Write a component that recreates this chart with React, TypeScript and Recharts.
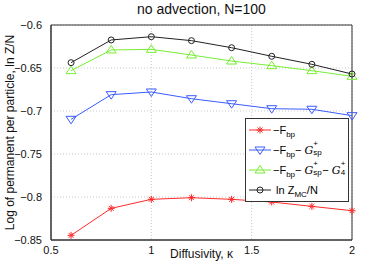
import React from 'react';
import {
  LineChart,
  Line,
  XAxis,
  YAxis,
  CartesianGrid,
  ReferenceArea,
} from 'recharts';

// Diffusivity values
const kappa = [0.6, 0.8, 1.0, 1.2, 1.4, 1.6, 1.8, 2.0];

// Series values
const fbp = [-0.8446, -0.8132, -0.8027, -0.8008, -0.8027, -0.8058, -0.8109, -0.8159];
const fbpSp = [-0.7097, -0.681, -0.6779, -0.6857, -0.6915, -0.6973, -0.698, -0.7054];
const fbpSp4 = [-0.6531, -0.629, -0.6283, -0.6349, -0.6419, -0.6473, -0.6531, -0.6597];
const lnZmc = [-0.6438, -0.6174, -0.6136, -0.6182, -0.6264, -0.6364, -0.6457, -0.657];

const xTicks = [0.5, 1, 1.5, 2];
const yTicks = [-0.85, -0.8, -0.75, -0.7, -0.65, -0.6];

const data = kappa.map((k, i) => ({
  k,
  fbp: fbp[i],
  fbpSp: fbpSp[i],
  fbpSp4: fbpSp4[i],
  lnZmc: lnZmc[i],
}));

const COLORS = {
  red: '#ff2a2a',
  blue: '#3a5cff',
  green: '#77ee33',
  black: '#222222',
};

const FONT = '"Liberation Sans", Arial, sans-serif';

const fmt = (v: number) => String(v).replace('-', '\u2212');

// marker shapes
const Star = ({ cx, cy, color }: any) => {
  const r = 3.5;
  const d = r * 0.7;
  return (
    <g stroke={color} strokeWidth={1}>
      <line x1={cx - r} y1={cy} x2={cx + r} y2={cy} />
      <line x1={cx} y1={cy - r} x2={cx} y2={cy + r} />
      <line x1={cx - d} y1={cy - d} x2={cx + d} y2={cy + d} />
      <line x1={cx - d} y1={cy + d} x2={cx + d} y2={cy - d} />
    </g>
  );
};

const TriDown = ({ cx, cy, color }: any) => {
  const r = 5;
  return (
    <polygon
      points={`${cx - r},${cy - r * 0.6} ${cx + r},${cy - r * 0.6} ${cx},${cy + r * 0.9}`}
      fill="none"
      stroke={color}
      strokeWidth={1}
    />
  );
};

const TriUp = ({ cx, cy, color }: any) => {
  const r = 5;
  return (
    <polygon
      points={`${cx - r},${cy + r * 0.6} ${cx + r},${cy + r * 0.6} ${cx},${cy - r * 0.9}`}
      fill="none"
      stroke={color}
      strokeWidth={1}
    />
  );
};

const Circ = ({ cx, cy, color }: any) => (
  <circle cx={cx} cy={cy} r={3} fill="none" stroke={color} strokeWidth={1} />
);

const dotOf = (Shape: any, color: string) => (props: any) =>
  <Shape key={`${color}-${props.index}`} cx={props.cx} cy={props.cy} color={color} />;

const LegendRow = ({ Shape, color, children }: any) => (
  <div style={{ display: 'flex', alignItems: 'center', height: 20 }}>
    <svg width={24} height={14} style={{ flex: 'none' }}>
      <line x1={1} y1={7} x2={23} y2={7} stroke={color} strokeWidth={1} />
      <Shape cx={12} cy={7} color={color} />
    </svg>
    <span style={{ marginLeft: 1, whiteSpace: 'nowrap' }}>{children}</span>
  </div>
);

const sub = (t: string) => (
  <span style={{ fontSize: 8, position: 'relative', top: 3 }}>{t}</span>
);

const G = (s: string) => (
  <span style={{ fontStyle: 'italic', fontFamily: '"DejaVu Serif", serif' }}>
    G
    <span style={{ position: 'relative', display: 'inline-block', width: s.length > 1 ? 9 : 5, height: 10, fontStyle: 'normal', fontFamily: FONT }}>
      <span style={{ position: 'absolute', left: 0, top: -5, fontSize: 8 }}>+</span>
      <span style={{ position: 'absolute', left: 0, top: 4, fontSize: 8 }}>{s}</span>
    </span>
  </span>
);

const LegendBox = () => (
  <div
    style={{
      position: 'absolute',
      left: 245,
      top: 118,
      background: '#fff',
      border: '1px solid #333',
      padding: '1px 2px 1px 2px',
      fontFamily: FONT,
      fontSize: 11,
      color: '#000',
    }}
  >
    <LegendRow Shape={Star} color={COLORS.red}>
      −F{sub('bp')}
    </LegendRow>
    <LegendRow Shape={TriDown} color={COLORS.blue}>
      −F{sub('bp')}− {G('sp')}
    </LegendRow>
    <LegendRow Shape={TriUp} color={COLORS.green}>
      −F{sub('bp')}− {G('sp')}− {G('4')}
    </LegendRow>
    <LegendRow Shape={Circ} color={COLORS.black}>
      &nbsp;ln Z{sub('MC')}/N
    </LegendRow>
  </div>
);

export default function App() {
  return (
    <div style={{ position: 'absolute', left: 0, top: 0, width: 388, height: 270, background: '#fff' }}>
      <div
        style={{
          position: 'absolute',
          top: 1,
          left: 51,
          width: 301,
          textAlign: 'center',
          fontFamily: FONT,
          fontSize: 14,
          color: '#111',
        }}
      >
        no advection, N=100
      </div>
      <LineChart
        width={388}
        height={270}
        data={data}
        margin={{ top: 25, right: 36, bottom: 0, left: 0 }}
        style={{ fontFamily: FONT }}
      >
        <CartesianGrid stroke="#c8c8c8" strokeDasharray="1 2" />
        <XAxis
          dataKey="k"
          type="number"
          domain={[0.5, 2]}
          ticks={xTicks}
          tickFormatter={fmt}
          axisLine={{ stroke: '#333' }}
          tickLine={false}
          tick={{ fontSize: 11, fill: '#111' }}
          tickMargin={0}
          height={30}
          label={{ value: 'Diffusivity, \u03ba', position: 'insideBottom', offset: 12, fontSize: 12, fill: '#111' }}
        />
        <YAxis
          type="number"
          domain={[-0.85, -0.6]}
          ticks={yTicks}
          tickFormatter={fmt}
          width={51}
          axisLine={{ stroke: '#333' }}
          tickLine={false}
          tick={{ fontSize: 11, fill: '#111' }}
          tickMargin={3}
          label={{
            value: 'Log of permanent per particle, ln Z/N',
            angle: -90,
            position: 'insideLeft',
            offset: 10,
            style: { textAnchor: 'middle' },
            fontSize: 12,
            fill: '#111',
          }}
        />
        <ReferenceArea x1={0.5} x2={2} y1={-0.85} y2={-0.6} fill="none" stroke="#333" strokeOpacity={1} />
        <Line dataKey="fbp" stroke={COLORS.red} strokeWidth={1} dot={dotOf(Star, COLORS.red)} isAnimationActive={false} />
        <Line dataKey="fbpSp" stroke={COLORS.blue} strokeWidth={1} dot={dotOf(TriDown, COLORS.blue)} isAnimationActive={false} />
        <Line dataKey="fbpSp4" stroke={COLORS.green} strokeWidth={1} dot={dotOf(TriUp, COLORS.green)} isAnimationActive={false} />
        <Line dataKey="lnZmc" stroke={COLORS.black} strokeWidth={1} dot={dotOf(Circ, COLORS.black)} isAnimationActive={false} />
      </LineChart>
      <LegendBox />
    </div>
  );
}
